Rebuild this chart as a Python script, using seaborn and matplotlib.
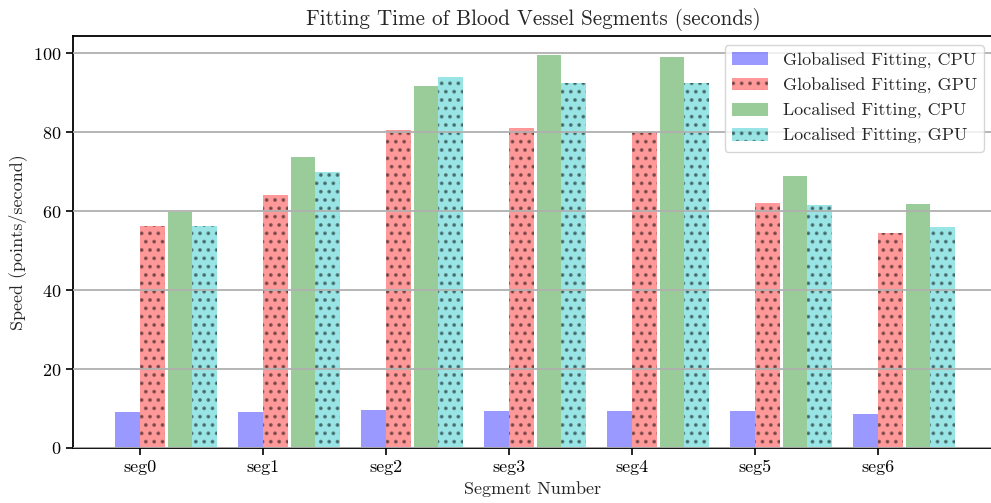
import matplotlib
matplotlib.use("Agg")
import matplotlib.pyplot as plt
import seaborn as sns
import numpy as np

segments = ["seg0", "seg1", "seg2", "seg3", "seg4", "seg5", "seg6"]
global_cpu = [9.0, 9.1, 9.6, 9.3, 9.3, 9.3, 8.6]
global_gpu = [56.3, 64.2, 80.6, 81.2, 80.0, 62.1, 54.6]
local_cpu = [59.7, 73.8, 91.8, 99.6, 99.2, 68.8, 61.9]
local_gpu = [56.3, 69.9, 94.0, 92.6, 92.6, 61.6, 56.0]
series_names = ["Globalised Fitting, CPU", "Globalised Fitting, GPU",
                "Localised Fitting, CPU", "Localised Fitting, GPU"]

sns.set_theme(style="white")
plt.rcParams["font.family"] = "serif"
plt.rcParams["font.serif"] = ["cmr10"]
plt.rcParams["mathtext.fontset"] = "cm"
plt.rcParams["axes.formatter.use_mathtext"] = True
plt.rcParams["hatch.color"] = "black"
plt.rcParams["hatch.linewidth"] = 1.6

fig = plt.figure(figsize=(9.91, 5.03), dpi=100)
ax = fig.add_axes([73 / 991, 1 - 448 / 503, (993 - 73) / 991, (448 - 36) / 503])

idx = np.arange(len(segments))
offsets = [-0.1, 0.1, 0.325, 0.525]
colors = ["#0000ff", "#ff0000", "#008000", "#00bfbf"]
hatches = [None, "..", None, ".."]
data = [global_cpu, global_gpu, local_cpu, local_gpu]

for vals, off, col, hat, name in zip(data, offsets, colors, hatches, series_names):
    kw = dict(hatch=hat) if hat else {}
    sns.barplot(x=idx + off, y=vals, native_scale=True, width=0.2, color=col,
                alpha=0.4, saturation=1, errorbar=None, linewidth=0,
                edgecolor="black", label=name, ax=ax, **kw)

ax.set_xlim(-0.545, (993 - 140) / 123)
ax.set_ylim(0, 104.4)
ax.set_xticks(idx)
ax.set_xticklabels(segments)
ax.set_yticks([0, 20, 40, 60, 80, 100])
ax.yaxis.grid(True, color="#b0b0b0", linewidth=1.3)
ax.set_axisbelow(False)
ax.tick_params(axis="both", direction="out", length=5, width=1.2, labelsize=13,
               bottom=True, left=True, colors="black")
for s in ["left", "bottom", "top", "right"]:
    ax.spines[s].set_color("black")
    ax.spines[s].set_linewidth(1.3)

ax.set_xlabel("Segment Number", fontsize=13, labelpad=4)
ax.set_ylabel("Speed (points/second)", fontsize=13)
ax.set_title("Fitting Time of Blood Vessel Segments (seconds)", fontsize=15.2, pad=8)
ax.legend(loc="upper right", fontsize=13, frameon=True, fancybox=True,
          edgecolor="#cccccc", framealpha=0.8)

fig.savefig("out.png", dpi=100)
